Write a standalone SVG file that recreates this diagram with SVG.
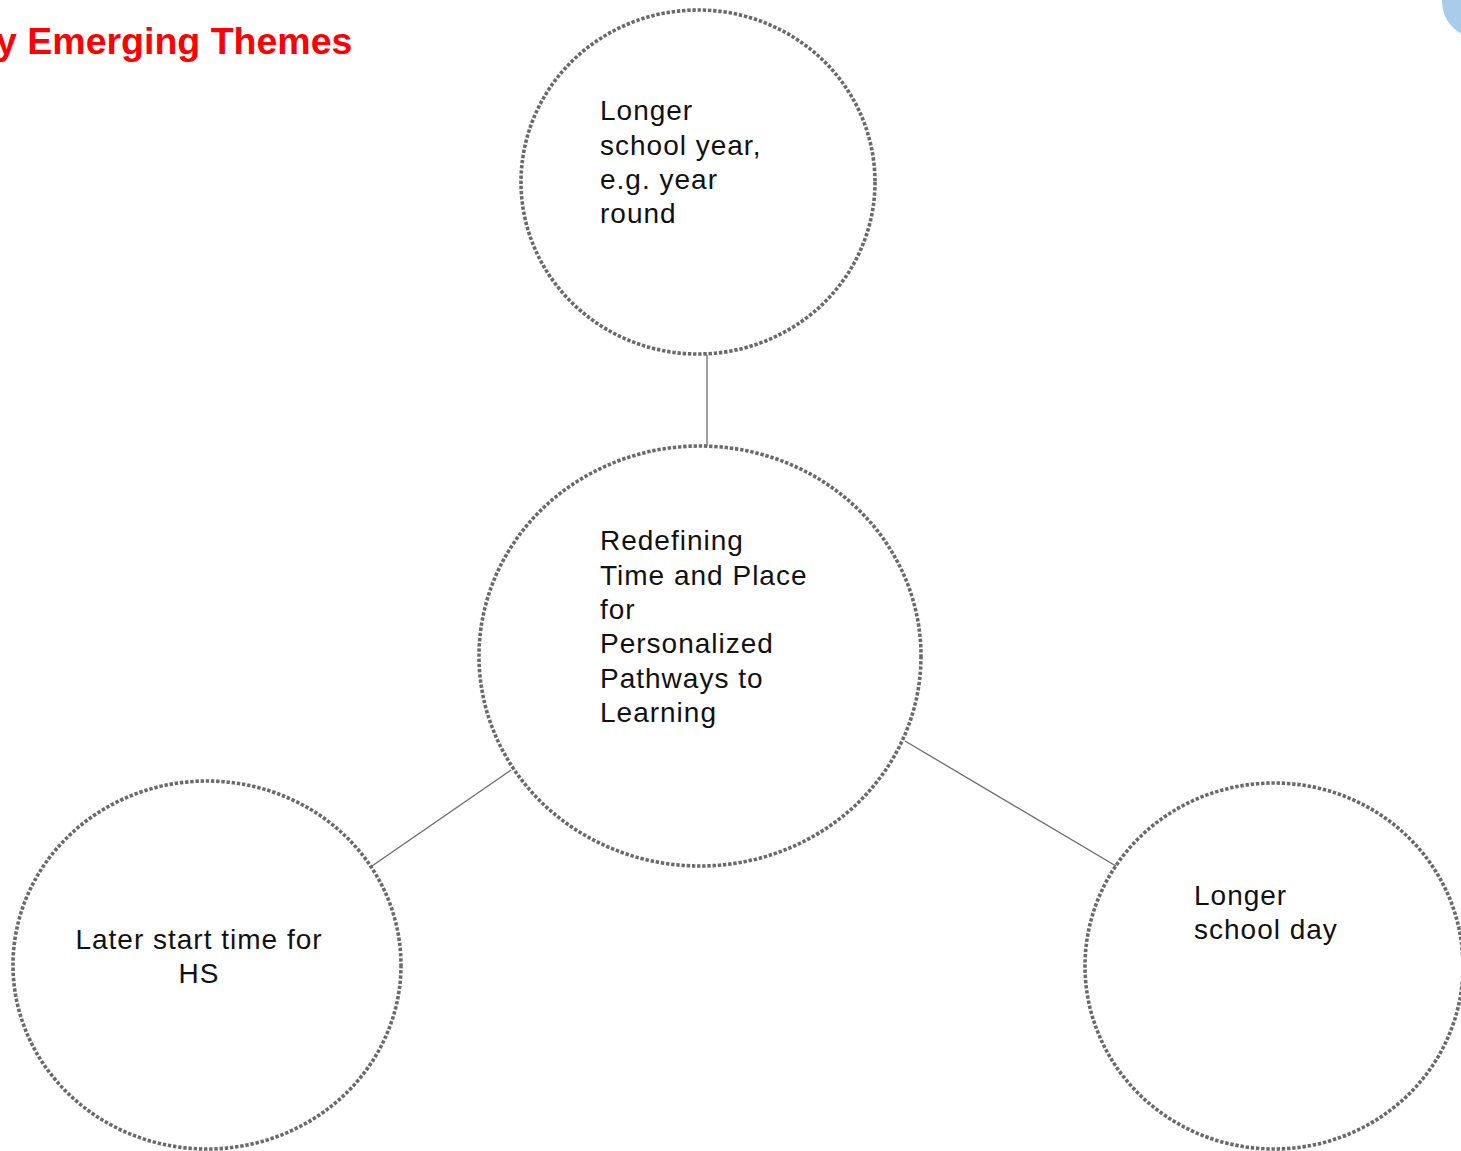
<svg xmlns="http://www.w3.org/2000/svg" width="1461" height="1151" viewBox="0 0 1461 1151">
<style>
.node ellipse{fill:none;stroke:#6a6a6a;stroke-width:3.6;stroke-dasharray:3.4 1.8}
.t{font-family:"Liberation Sans",Arial,sans-serif;font-size:28px;fill:#111;letter-spacing:1px}
.conn line{stroke:#6a6a6a;stroke-width:1.3}
</style>
<rect width="1461" height="1151" fill="#fff"/>
<ellipse cx="1482" cy="2" rx="40" ry="37" fill="#a8cce9"/>
<text x="-4" y="54" font-family="Liberation Sans,Arial,sans-serif" font-size="37.5" font-weight="bold" fill="#ff0000">y Emerging Themes</text>
<g id="connectors" class="conn">
<line x1="707" y1="355" x2="707" y2="446"/>
<line x1="372" y1="866" x2="511" y2="770"/>
<line x1="905" y1="741" x2="1116" y2="866"/>
</g>
<g id="node-top" class="node">
<ellipse cx="698" cy="182" rx="177" ry="172"/>
<text class="t"><tspan x="600" y="120">Longer</tspan><tspan x="600" y="155">school year,</tspan><tspan x="600" y="189">e.g. year</tspan><tspan x="600" y="223">round</tspan></text>
</g>
<g id="node-center" class="node">
<ellipse cx="700" cy="656" rx="221" ry="210"/>
<text class="t"><tspan x="600" y="550">Redefining</tspan><tspan x="600" y="585">Time and Place</tspan><tspan x="600" y="619">for</tspan><tspan x="600" y="653">Personalized</tspan><tspan x="600" y="688">Pathways to</tspan><tspan x="600" y="722">Learning</tspan></text>
</g>
<g id="node-left" class="node">
<ellipse cx="207" cy="965" rx="194" ry="184"/>
<text class="t" text-anchor="middle"><tspan x="199" y="949">Later start time for</tspan><tspan x="199" y="983">HS</tspan></text>
</g>
<g id="node-right" class="node">
<ellipse cx="1274" cy="966" rx="189" ry="183"/>
<text class="t"><tspan x="1194" y="905">Longer</tspan><tspan x="1194" y="939">school day</tspan></text>
</g>
</svg>
